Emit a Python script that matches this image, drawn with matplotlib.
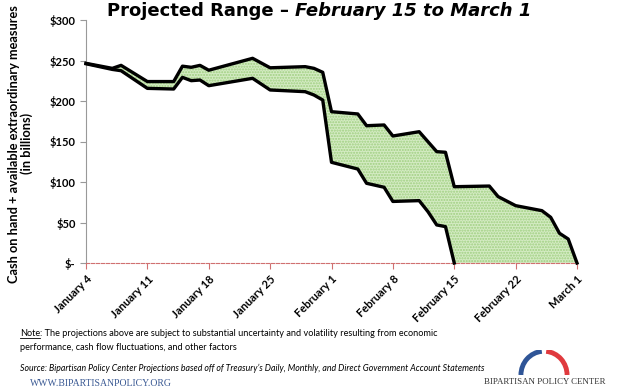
import numpy as np
import matplotlib
matplotlib.use("Agg")
import matplotlib.pyplot as plt
from matplotlib.patches import Arc
from matplotlib.lines import Line2D

# days counted from January 4
days = [0, 3, 4, 7, 10, 11, 12, 13, 14, 19, 21, 25, 26, 27, 28, 31, 32, 34, 35,
        38, 39, 40, 41, 42, 46, 47, 49, 52, 53, 54, 55, 56]
upper = [246.5, 240.3, 244, 224, 224, 243, 241.6, 244, 238, 252.7, 241, 242.4, 240.3,
         235.4, 186.8, 184, 169.5, 170.4, 156.8, 162.1, 149.8, 137.5, 136.7, 94.2,
         95, 82, 70.8, 64.6, 56.4, 36.7, 29.6, 0]
low_days = [0, 3, 4, 7, 10, 11, 12, 13, 14, 19, 21, 25, 26, 27, 28, 31, 32, 34, 35,
            38, 39, 40, 41, 42]
lower = [246, 239, 237.4, 215.6, 214.8, 229.2, 225.1, 225.9, 218.9, 228, 213.6, 211.5,
         207.4, 201.2, 124.3, 116, 98.4, 93.5, 76, 77, 63.4, 47, 44.9, 0]

tick_days = [0, 7, 14, 21, 28, 35, 42, 49, 56]
tick_labels = ["January 4", "January 11", "January 18", "January 25", "February 1",
               "February 8", "February 15", "February 22", "March 1"]
y_ticks = [0, 50, 100, 150, 200, 250, 300]
y_labels = ["$-", "$50", "$100", "$150", "$200", "$250", "$300"]

fig = plt.figure(figsize=(6.24, 3.91), dpi=100)
ax = fig.add_axes([86/624, 1-263/391, (577-86)/624, (263-20)/391])

d = np.array(days, dtype=float)
lo = np.interp(d, low_days, lower, right=0)
ax.fill_between(d, lo, upper, facecolor="#d4ebc3", edgecolor="#9fcf80",
                hatch="......", linewidth=0, zorder=1)
ax.plot(days, upper, color="black", lw=2.4, solid_joinstyle="round", zorder=3, clip_on=False)
ax.plot(low_days, lower, color="black", lw=2.4, solid_joinstyle="round", zorder=3, clip_on=False)

ax.set_xlim(0, 56)
ax.set_ylim(0, 300)
ax.set_xticks(tick_days)
ax.set_xticklabels(tick_labels, rotation=45, ha="right", rotation_mode="anchor",
                   fontsize=8, fontweight="bold", family="Lato")
ax.set_yticks(y_ticks)
ax.set_yticklabels(y_labels, fontsize=8, fontweight="bold", family="Lato")
for s in ["top", "right"]:
    ax.spines[s].set_visible(False)
ax.spines["left"].set_color("#999999")
ax.spines["bottom"].set_color("#d07070")
ax.spines["bottom"].set_linestyle((0, (3, 1.5)))
ax.tick_params(axis="y", colors="#999999", length=4, labelcolor="black")
ax.tick_params(axis="x", colors="#d07070", length=4, labelcolor="black")

ax.set_ylabel("Cash on hand + available extraordinary measures\n(in billions)",
              fontsize=9.2, fontweight="bold", family="Lato", linespacing=1.0)
ax.yaxis.set_label_coords(-0.108, 0.49)

# title in two parts
fig.canvas.draw()
r = fig.canvas.get_renderer()
t1 = fig.text(0, 1-11/391, "Projected Range \u2013 ", fontsize=13, fontweight="bold",
              va="center", family="DejaVu Sans")
t2 = fig.text(0, 1-11/391, "February 15 to March 1", fontsize=13, fontweight="bold",
              style="italic", va="center", family="DejaVu Sans")
w1 = t1.get_window_extent(r).width
w2 = t2.get_window_extent(r).width
x0 = 319 - (w1 + w2) / 2
t1.set_x(x0 / 624)
t2.set_x((x0 + w1) / 624)

# footnotes
fs = 6.6
tn = fig.text(20/624, 1-333/391, "Note", fontsize=fs, family="Lato", va="center")
wn = tn.get_window_extent(r)
fig.text((20 + wn.width)/624, 1-333/391,
         ": The projections above are subject to substantial uncertainty and volatility resulting from economic",
         fontsize=fs, family="Lato", va="center")
fig.add_artist(Line2D([20/624, (20 + wn.width)/624], [1-338/391, 1-338/391],
                      color="black", lw=0.6))
fig.text(20/624, 1-348/391, "performance, cash flow fluctuations, and other factors",
         fontsize=fs, family="Lato", va="center")
fig.text(20/624, 1-368/391,
         "Source: Bipartisan Policy Center Projections based off of Treasury\u2019s Daily, Monthly, and Direct Government Account Statements",
         fontsize=6.3, family="Lato", style="italic", va="center")
fig.text(30/624, 1-383/391, "WWW.BIPARTISANPOLICY.ORG", fontsize=7, family="Liberation Serif",
         color="#3b5a94", va="center")
fig.text(545/624, 1-382/391, "BIPARTISAN POLICY CENTER", fontsize=6.4, family="Liberation Serif",
         color="#333333", va="center", ha="center")

# logo arch
lg = fig.add_axes([515/624, 1-375/391, 58/624, 25/391])
lg.set_xlim(-1.1, 1.1)
lg.set_ylim(0, 1.0)
lg.axis("off")
lg.add_patch(Arc((0, 0), 1.75, 1.9, theta1=95, theta2=180, color="#2f5597", lw=3.5))
lg.add_patch(Arc((0, 0), 1.75, 1.9, theta1=0, theta2=85, color="#e03a3e", lw=3.5))

fig.savefig("out.png", dpi=100)
